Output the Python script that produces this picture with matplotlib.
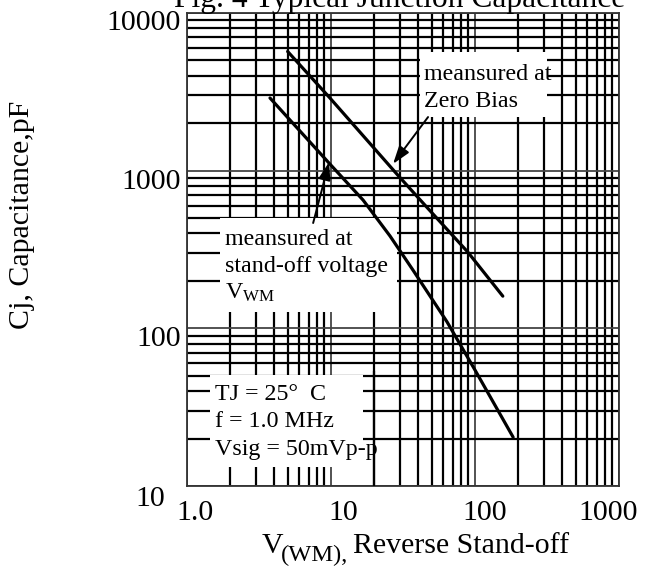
import matplotlib
matplotlib.use("Agg")
import matplotlib.pyplot as plt
from matplotlib.patches import Rectangle
from matplotlib.ticker import LogLocator, NullFormatter

plt.rcParams['font.family'] = ['Liberation Serif', 'DejaVu Serif']
plt.rcParams['mathtext.fontset'] = 'custom'
plt.rcParams['mathtext.rm'] = 'Liberation Serif'
plt.rcParams['mathtext.it'] = 'Liberation Serif:italic'

# ---- data ----
zero_bias_v = [5.0, 9.8, 29, 46, 89, 156]
zero_bias_c = [5700, 2900, 940, 590, 305, 160]
standoff_v = [3.77, 9.84, 16.7, 25.7, 37.1, 63.9, 100, 184]
standoff_c = [2890, 1100, 651, 385, 234, 110, 54.4, 20.4]

x_tick_labels = ["1.0", "10", "100", "1000"]
y_tick_labels = ["10", "100", "1000", "10000"]

title = "Fig. 4 Typical Junction Capacitance"
ylabel = "Cj, Capacitance,pF"

W, H = 665, 578
fig = plt.figure(figsize=(W / 100, H / 100), dpi=100)
ax = fig.add_axes([187 / W, 1 - 486 / H, 432 / W, 473 / H])
ax.set_xscale('log')
ax.set_yscale('log')
ax.set_xlim(1, 1000)
ax.set_ylim(10, 10000)

ax.xaxis.set_minor_locator(LogLocator(base=10, subs=range(2, 10)))
ax.yaxis.set_minor_locator(LogLocator(base=10, subs=range(2, 10)))
ax.xaxis.set_minor_formatter(NullFormatter())
ax.yaxis.set_minor_formatter(NullFormatter())
ax.set_xticklabels([])
ax.set_yticklabels([])
ax.tick_params(which='both', length=0)
ax.set_axisbelow(True)
ax.grid(True, which='minor', color='black', lw=1.6)
ax.grid(True, which='major', color='#444444', lw=1.3)
for s in ax.spines.values():
    s.set_color('#333333')
    s.set_linewidth(1.3)

# white label boxes (axes fraction)
boxes = [(0.539, 0.780, 0.833 - 0.539, 0.917 - 0.780),
         (0.076, 0.368, 0.486 - 0.076, 0.567 - 0.368),
         (0.053, 0.040, 0.407 - 0.053, 0.235 - 0.040)]
for (bx, by, bw, bh) in boxes:
    ax.add_patch(Rectangle((bx, by), bw, bh, transform=ax.transAxes,
                           facecolor='white', edgecolor='none', zorder=2))

# curves
ax.plot(zero_bias_v, zero_bias_c, color='black', lw=2.3, zorder=3,
        solid_capstyle='round', solid_joinstyle='round')
ax.plot(standoff_v, standoff_c, color='black', lw=2.3, zorder=3,
        solid_capstyle='round', solid_joinstyle='round')

fs_ann = 17.3
ann = dict(transform=ax.transAxes, fontsize=fs_ann, ha='left', va='baseline',
           zorder=3)
ax.text(0.549, 0.858, "meansured at", **ann)
ax.text(0.549, 0.801, "Zero Bias", **ann)
ax.text(0.088, 0.510, "meansured at", **ann)
ax.text(0.088, 0.452, "stand-off voltage", **ann)
ax.text(0.088, 0.397, r"V$_{\mathrm{WM}}$", **ann)
ax.text(0.065, 0.182, "TJ = 25°  C", **ann)
ax.text(0.065, 0.125, "f = 1.0 MHz", **ann)
ax.text(0.065, 0.0655, "Vsig = 50mVp-p", **ann)
ax.axvline(20, ymin=0.0, ymax=0.24, color='black', lw=1.6, zorder=4)

arrow = dict(arrowstyle='-|>,head_length=0.6,head_width=0.2', color='black',
             lw=1.4, mutation_scale=18, shrinkA=0, shrinkB=0)
ax.annotate('', xy=(0.477, 0.681), xytext=(0.558, 0.780),
            xycoords='axes fraction', textcoords='axes fraction',
            arrowprops=arrow, zorder=4)
ax.annotate('', xy=(0.329, 0.685), xytext=(0.292, 0.556),
            xycoords='axes fraction', textcoords='axes fraction',
            arrowprops=arrow, zorder=4)

# tick labels
fs = 21.5
x_lab_pos = [0.0185, 0.361, 0.690, 0.975]
for lbl, xp in zip(x_tick_labels, x_lab_pos):
    ax.text(xp, -0.057, lbl, transform=ax.transAxes, fontsize=fs,
            ha='center', va='center', clip_on=False)
y_lab_pos = [(-0.051, -0.027), (-0.014, 0.311), (-0.014, 0.643), (-0.014, 0.979)]
for lbl, (xp, yp) in zip(y_tick_labels, y_lab_pos):
    ax.text(xp, yp, lbl, transform=ax.transAxes, fontsize=fs,
            ha='right', va='center', clip_on=False)

# x label: V with subscript (WM), then Reverse Stand-off
fig.text(262 / W, 1 - 553 / H, "V", fontsize=fs, ha='left', va='baseline')
fig.text(281 / W, 1 - 561 / H, "(WM),", fontsize=fs * 0.82, ha='left',
         va='baseline')
fig.text(353 / W, 1 - 553 / H, "Reverse Stand-off", fontsize=fs, ha='left',
         va='baseline')
fig.text(22 / W, 1 - 215 / H, ylabel, fontsize=fs, ha='center', va='center',
         rotation=90)
fig.text(400 / W, 1 - 7 / H, title, fontsize=22.7, ha='center', va='baseline')

fig.savefig("out.png", dpi=100)
